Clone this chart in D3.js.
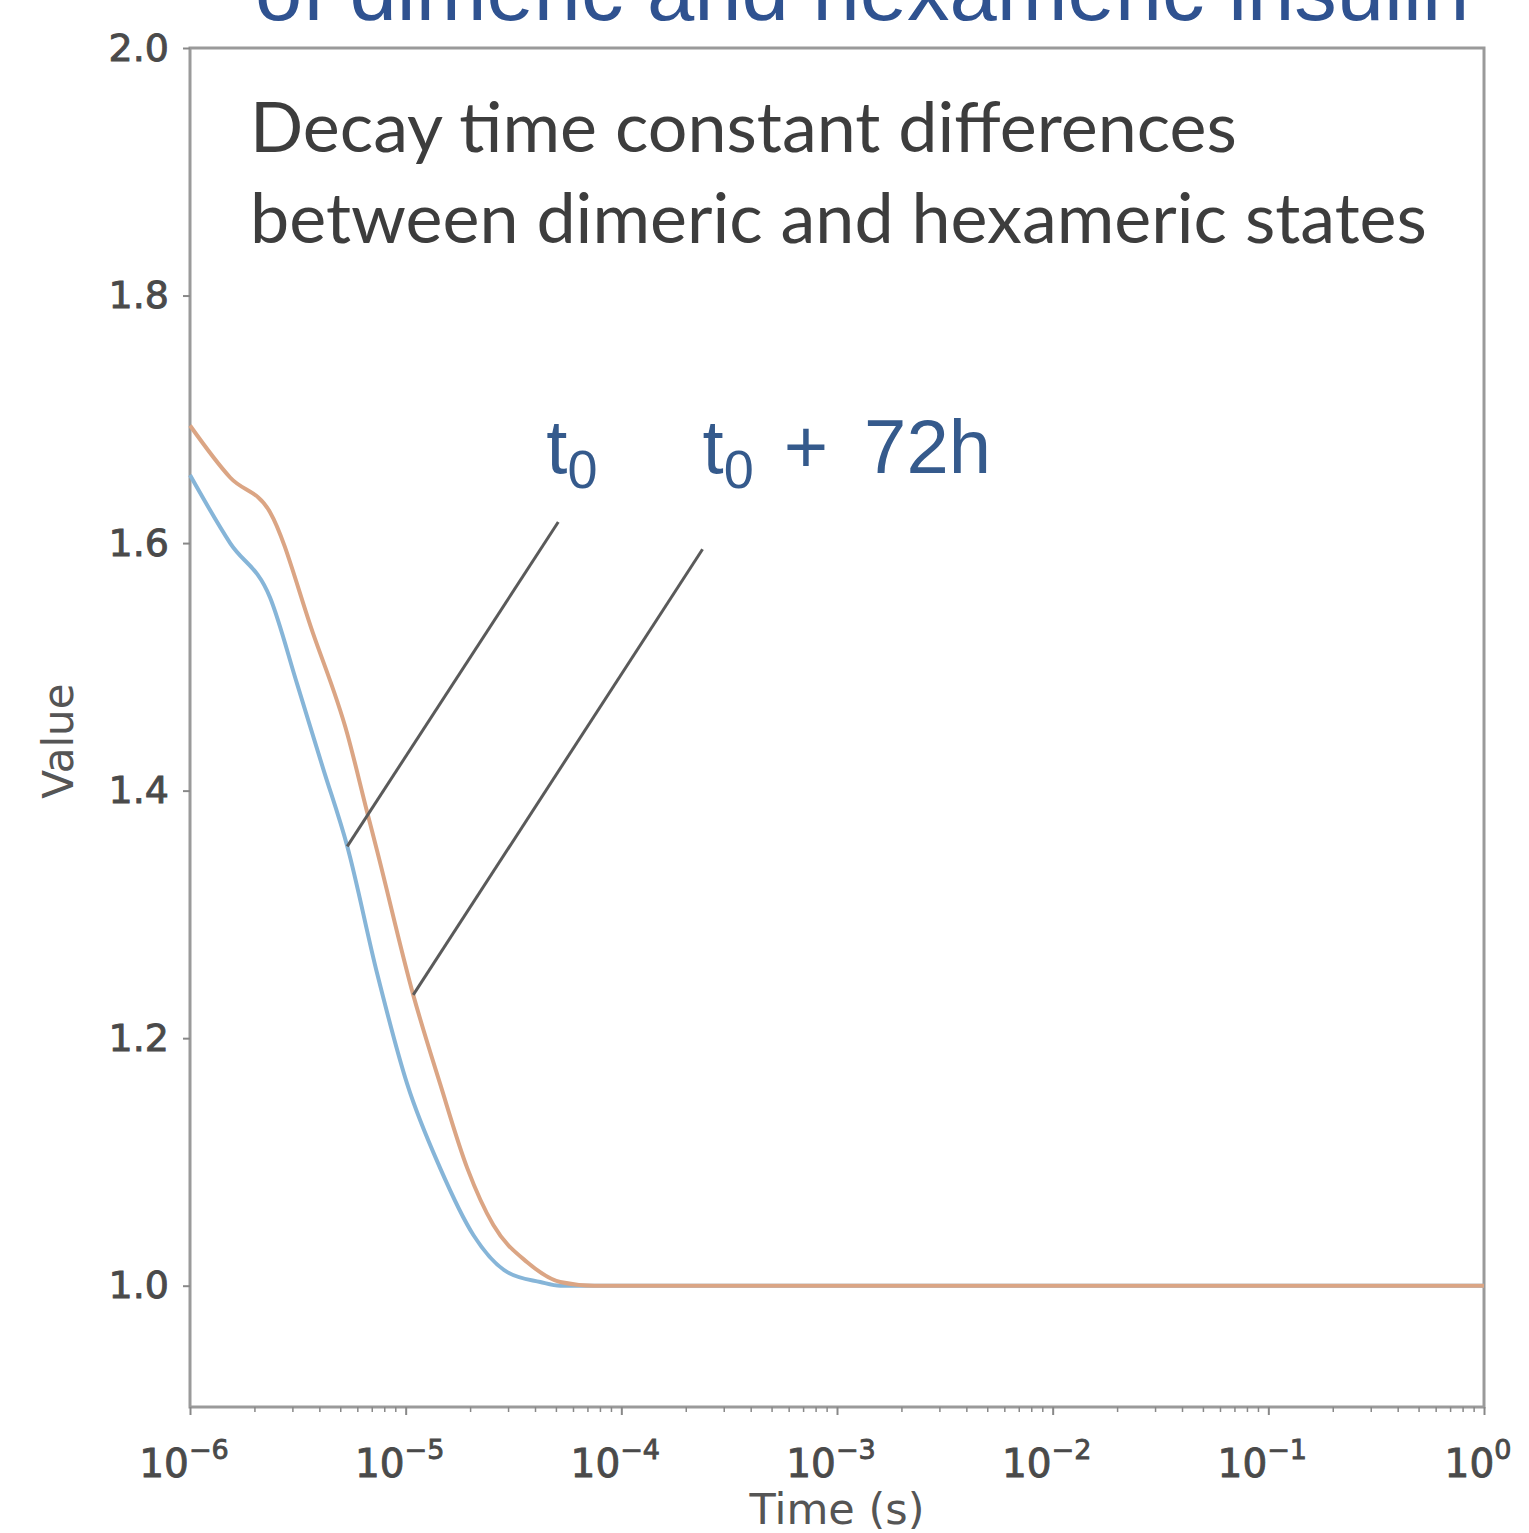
<!DOCTYPE html>
<html>
<head>
<meta charset="utf-8">
<script src="https://cdn.jsdelivr.net/npm/d3@7"></script>
<style>
  body { margin: 0; background: #fff; }
  svg { display: block; }
</style>
</head>
<body>
<div id="chart"></div>
<script>
// t0 curve (blue)
const t0Time  = [1.0e-6, 1.535e-6, 2.35e-6, 3.14e-6, 4.14e-6, 5.36e-6, 7.38e-6, 1.016e-5, 1.445e-5, 2.06e-5, 2.96e-5, 4.21e-5, 5.21e-5, 1e-4, 1e-3, 1e-2, 1e-1, 1];
const t0Value = [1.655, 1.600, 1.556, 1.486, 1.418, 1.355, 1.252, 1.163, 1.095, 1.041, 1.011, 1.003, 1.0, 1.0, 1.0, 1.0, 1.0, 1.0];

// t0 + 72h curve (orange)
const t72Time  = [1.0e-6, 1.535e-6, 2.35e-6, 3.72e-6, 5.36e-6, 6.62e-6, 7.38e-6, 1.084e-5, 1.445e-5, 1.93e-5, 2.55e-5, 3.66e-5, 5.21e-5, 7.5e-5, 1e-4, 1e-3, 1e-2, 1e-1, 1];
const t72Value = [1.695, 1.653, 1.625, 1.527, 1.446, 1.383, 1.351, 1.235, 1.163, 1.095, 1.049, 1.019, 1.003, 1.0, 1.0, 1.0, 1.0, 1.0, 1.0];

const yTicks = [1.0, 1.2, 1.4, 1.6, 1.8, 2.0];
const xTicks = [1e-6, 1e-5, 1e-4, 1e-3, 1e-2, 1e-1, 1];
const xTickExp = ["\u22126", "\u22125", "\u22124", "\u22123", "\u22122", "\u22121", "0"];

// pointer lines: from label end to curve (data coords)
const callouts = [
  { label: "t0",      from: [5.1e-5, 1.617], to: [5.36e-6, 1.355] },
  { label: "t0+72h",  from: [2.38e-4, 1.595], to: [1.084e-5, 1.235] }
];
const calloutLabelY = 1.657;

const titleText = "of dimeric and hexameric insulin";
const noteLines = ["Decay time constant differences", "between dimeric and hexameric states"];

const width = 1529, height = 1533;
const margin = { left: 190, right: 45, top: 48, bottom: 126 };

const svg = d3.select("#chart").append("svg")
  .attr("width", width)
  .attr("height", height);

const x = d3.scaleLog()
  .domain([1e-6, 1])
  .range([margin.left, width - margin.right]);

const y = d3.scaleLinear()
  .domain([0.902, 2.0])
  .range([height - margin.bottom, margin.top]);

// cut-off slide title
svg.append("text")
  .attr("x", 255)
  .attr("y", 20)
  .style("font-family", "Liberation Sans, Arial, sans-serif")
  .style("font-size", "85px")
  .style("fill", "#2f5290")
  .text(titleText);

// plot frame
svg.append("rect")
  .attr("x", margin.left)
  .attr("y", margin.top)
  .attr("width", width - margin.left - margin.right)
  .attr("height", height - margin.top - margin.bottom)
  .attr("fill", "none")
  .attr("stroke", "#9a9a9a")
  .attr("stroke-width", 3);

// y axis
const yAxis = svg.append("g")
  .attr("transform", `translate(${margin.left},0)`)
  .call(d3.axisLeft(y).tickValues(yTicks).tickFormat(d3.format(".1f")).tickSize(7).tickPadding(14));
yAxis.select(".domain").remove();
yAxis.selectAll("line").attr("stroke", "#888").attr("stroke-width", 2);
yAxis.selectAll("text")
  .style("font-family", "DejaVu Sans, sans-serif")
  .style("font-size", "38px")
  .style("fill", "#4a4a4a")
  .style("stroke", "#4a4a4a")
  .style("stroke-width", 0.9);

// x axis: major ticks
const xAxis = svg.append("g")
  .attr("transform", `translate(0,${height - margin.bottom})`)
  .call(d3.axisBottom(x).tickValues(xTicks).tickFormat("").tickSize(8));
xAxis.select(".domain").remove();
xAxis.selectAll("line").attr("stroke", "#888").attr("stroke-width", 2);

// x axis: minor ticks
const minor = [];
for (let e = -6; e < 0; e++) for (let k = 2; k <= 9; k++) minor.push(k * Math.pow(10, e));
svg.append("g")
  .attr("transform", `translate(0,${height - margin.bottom})`)
  .selectAll("line")
  .data(minor)
  .enter()
  .append("line")
  .attr("x1", d => x(d)).attr("x2", d => x(d))
  .attr("y1", 0).attr("y2", 5)
  .attr("stroke", "#888")
  .attr("stroke-width", 1.5);

// x tick labels as 10^n
const xl = svg.append("g").selectAll("text")
  .data(xTicks)
  .enter()
  .append("text")
  .attr("x", d => x(d) - 6)
  .attr("y", height - margin.bottom + 70)
  .attr("text-anchor", "middle")
  .style("font-family", "DejaVu Sans, sans-serif")
  .style("fill", "#4a4a4a")
  .style("stroke", "#4a4a4a")
  .style("stroke-width", 0.9);
xl.append("tspan").style("font-size", "39px").text("10");
xl.append("tspan")
  .attr("dy", -18)
  .style("font-size", "27px")
  .text((d, i) => xTickExp[i]);

// axis labels
svg.append("text")
  .attr("x", x(Math.sqrt(1e-6 * 1)))
  .attr("y", height - 9)
  .attr("text-anchor", "middle")
  .style("font-family", "DejaVu Sans, sans-serif")
  .style("font-size", "43px")
  .style("fill", "#555")
  .text("Time (s)");

svg.append("text")
  .attr("transform", `translate(73,${y(1.44)}) rotate(-90)`)
  .attr("text-anchor", "middle")
  .style("font-family", "DejaVu Sans, sans-serif")
  .style("font-size", "42px")
  .style("fill", "#555")
  .text("Value");

// curves
const line = d3.line()
  .x(d => x(d[0]))
  .y(d => y(d[1]))
  .curve(d3.curveMonotoneX);

svg.append("path")
  .datum(d3.zip(t0Time, t0Value))
  .attr("d", line)
  .attr("fill", "none")
  .attr("stroke", "#86b5d8")
  .attr("stroke-width", 4);

svg.append("path")
  .datum(d3.zip(t72Time, t72Value))
  .attr("d", line)
  .attr("fill", "none")
  .attr("stroke", "#dba584")
  .attr("stroke-width", 4);

// note text
svg.append("g").selectAll("text")
  .data(noteLines)
  .enter()
  .append("text")
  .attr("x", 250)
  .attr("y", (d, i) => 152 + i * 91)
  .style("font-family", "Lato, Open Sans, sans-serif")
  .style("font-size", "70px")
  .style("fill", "#3d3d3d")
  .text(d => d);

// callout lines
svg.append("g").selectAll("line")
  .data(callouts)
  .enter()
  .append("line")
  .attr("x1", d => x(d.from[0])).attr("y1", d => y(d.from[1]))
  .attr("x2", d => x(d.to[0])).attr("y2", d => y(d.to[1]))
  .attr("stroke", "#5a5a5a")
  .attr("stroke-width", 3);

// callout labels
const lab = svg.append("g").selectAll("text")
  .data(callouts)
  .enter()
  .append("text")
  .attr("x", (d, i) => x(d.from[0]) + (i === 0 ? -12 : 0))
  .attr("y", y(calloutLabelY))
  .style("font-family", "Liberation Sans, Arial, sans-serif")
  .style("fill", "#355a8c");
lab.append("tspan").style("font-size", "76px").text("t");
lab.append("tspan").attr("dy", 15).style("font-size", "54px").text("0");
const tail = lab.filter(d => d.label === "t0+72h");
tail.append("tspan").attr("dy", -15).attr("dx", 30).style("font-size", "76px").text("+");
tail.append("tspan").attr("dx", 36).style("font-size", "76px").text("72h");
</script>
</body>
</html>
